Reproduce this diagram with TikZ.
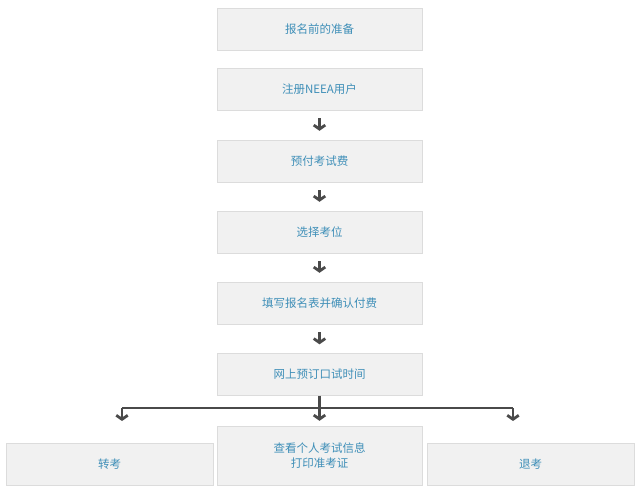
\documentclass[tikz,border=0pt]{standalone}
\usepackage{fontspec}
\usepackage{xcolor}
\usetikzlibrary{arrows.meta}
\newfontfamily\cjk{Noto Sans CJK SC}
\definecolor{boxfill}{HTML}{F1F1F1}
\definecolor{boxline}{HTML}{DCDCDC}
\definecolor{labtext}{HTML}{3F8FB8}
\definecolor{arrgray}{HTML}{4A4A4A}

\begin{document}
\begin{tikzpicture}[node distance=71pt,
  box/.style={draw=boxline, fill=boxfill, minimum width=205pt, minimum height=42pt, align=center, inner sep=2pt, text=labtext, font=\cjk\fontsize{11.5}{15}\selectfont},
  arr/.style={draw=arrgray, line width=2.8pt, -{Straight Barb[length=4pt, width=11.5pt]}},
  bar/.style={draw=arrgray, line width=2pt}]
\useasboundingbox (0,0) rectangle (640pt,-494pt);
\node[box] (prep) at (319.5pt,-29pt) {报名前的准备};
\node[box, below of=prep, yshift=11pt] (reg) {注册NEEA用户};
\node[box, below of=reg, yshift=-1pt] (pay) {预付考试费};
\node[box, below of=pay] (seat) {选择考位};
\node[box, below of=seat] (form) {填写报名表并确认付费};
\node[box, below of=form, yshift=-0.5pt] (oral) {网上预订口试时间};
\node[box, minimum height=59pt, below of=oral, yshift=-10pt] (info) {查看个人考试信息\\打印准考证};
\node[box, minimum width=207pt] (trans) at (109.5pt,-464pt) {转考};
\node[box, minimum width=207pt] (refund) at (530.5pt,-464pt) {退考};
\coordinate (split) at (319.5pt,-408pt);
\coordinate (tipL) at (122pt,-421pt);
\coordinate (tipR) at (513pt,-421pt);
\draw[arr] ([yshift=-8pt]reg.south) -- ([yshift=9pt]pay.north);
\draw[arr] ([yshift=-8pt]pay.south) -- ([yshift=9pt]seat.north);
\draw[arr] ([yshift=-8pt]seat.south) -- ([yshift=9pt]form.north);
\draw[arr] ([yshift=-8pt]form.south) -- ([yshift=9pt]oral.north);
\draw[bar] (tipL |- split) -- (tipR |- split);
\draw[arr] (oral.south) -- ([yshift=5pt]info.north);
\draw[arr] (tipL |- split) -- (tipL);
\draw[arr] (tipR |- split) -- (tipR);
\end{tikzpicture}
\end{document}
